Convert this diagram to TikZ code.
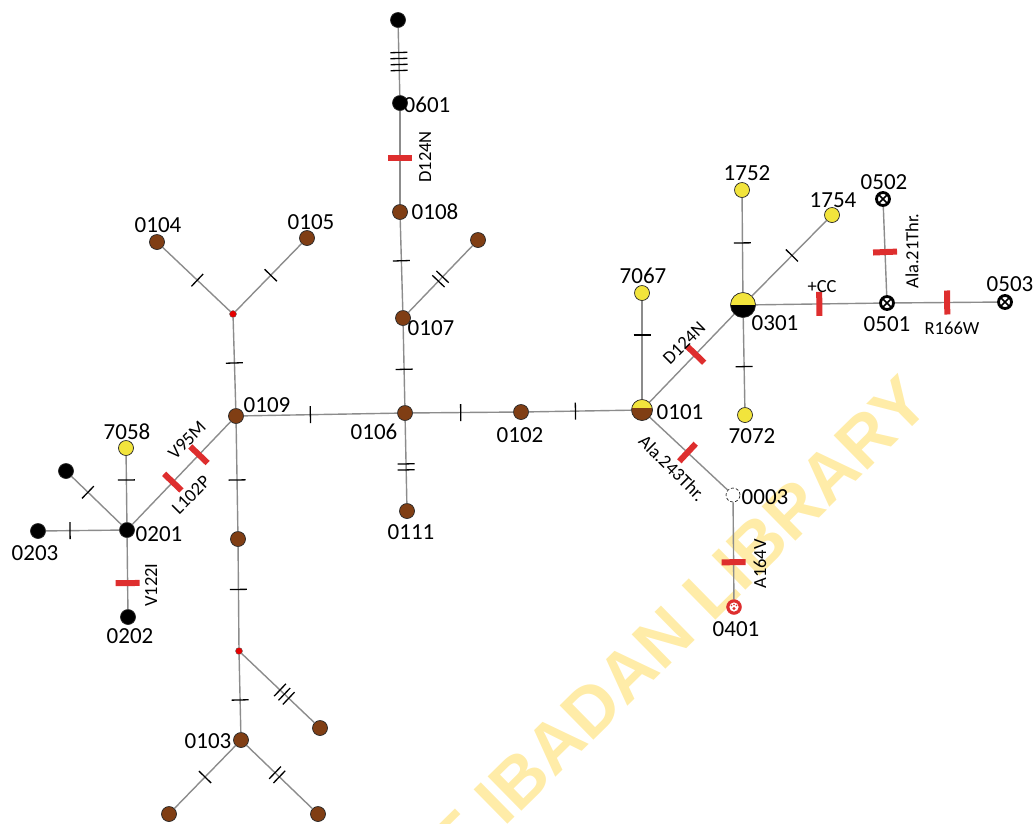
\documentclass[tikz,border=0pt]{standalone}
\usepackage{fontspec}
\setmainfont{Carlito}
\newfontfamily\wmfont{Liberation Sans Bold}
\usetikzlibrary{calc}
\definecolor{hbrown}{RGB}{128,62,20}
\definecolor{hyellow}{RGB}{242,228,60}
\definecolor{mred}{RGB}{222,46,46}
\definecolor{egray}{RGB}{140,140,140}
\definecolor{wmark}{RGB}{255,236,168}
\newcommand\tks[4]{%
  \path ($(#1)!#3!(#2)$) coordinate (tkm);
  \foreach \k in {1,...,#4}{%
    \pgfmathsetmacro\tkd{(\k-(#4+1)/2)*6}
    \path ($(tkm)!\tkd pt!(#2)$) coordinate (tkp);
    \draw[tickln] ($(tkp)!8.5pt!90:(#2)$) -- ($(tkp)!8.5pt!-90:(#2)$);
  }}
\newcommand\mbr[3]{\path (#1.center) -- node[mbar,pos=#3]{} (#2.center);}
\begin{document}
\begin{tikzpicture}[x=1pt,y=-1pt,
  edge/.style={draw=egray,line width=1.4pt},
  tickln/.style={draw=black,line width=1.3pt},
  mbar/.style={sloped,fill=mred,draw=none,minimum width=6pt,minimum height=24pt,inner sep=0pt},
  hap/.style={circle,inner sep=0pt,minimum size=15pt,draw=black!85,line width=0.7pt},
  brn/.style={hap,fill=hbrown},
  blk/.style={hap,fill=black},
  yel/.style={hap,fill=hyellow},
  med/.style={circle,inner sep=0pt,minimum size=7pt,fill=red!90!black,draw=black!60,line width=0.4pt},
  wht/.style={hap,minimum size=14pt,fill=white,densely dashed},
  xnd/.style={circle,inner sep=0pt,minimum size=13pt,draw=black,line width=2.8pt,fill=white,
     path picture={\draw[line width=1.5pt] (path picture bounding box.north west)--(path picture bounding box.south east);
                   \draw[line width=1.5pt] (path picture bounding box.north east)--(path picture bounding box.south west);}},
  lab/.style={font=\fontsize{23}{25}\selectfont,inner sep=0pt},
  mut/.style={font=\fontsize{18.5}{20}\selectfont,inner sep=0pt},
  wm/.style={text=wmark,font=\wmfont\fontsize{70}{80}\selectfont,inner sep=0pt}]
\useasboundingbox (0,0) rectangle (1035,823);
\begin{scope}
\clip (0,0) rectangle (1035,823);
\node[wm,rotate=44.5] (wmtext) at (660,641) {OF IBADAN LIBRARY};
\end{scope}
% nodes
\node[blk] (t601) at (398,20) {};
\node[blk] (n0601) at (400,103) {};
\node[brn] (n0108) at (400,212) {};
\node[brn] (n0107) at (403,318) {};
\node[brn] (b0107) at (478,240) {};
\node[brn] (n0106) at (405,413) {};
\node[brn] (n0111) at (407,511) {};
\node[brn] (n0102) at (521,412) {};
\node[hap,minimum size=21pt,fill=hbrown,
  path picture={\fill[hyellow] (path picture bounding box.north west) rectangle ([yshift=2pt]path picture bounding box.east);}]
  (n0101) at (642,410) {};
\node[yel] (n7067) at (642,293) {};
\node[hap,minimum size=25pt,fill=black,
  path picture={\fill[hyellow] (path picture bounding box.north west) rectangle (path picture bounding box.east);}]
  (n0301) at (743,305) {};
\node[yel] (n1752) at (742,190) {};
\node[yel] (n1754) at (832,215) {};
\node[yel] (n7072) at (745,415) {};
\node[xnd] (n0501) at (887,303) {};
\node[xnd] (n0502) at (883,199) {};
\node[xnd] (n0503) at (1005,302) {};
\node[wht] (n0003) at (733,495) {};
\node[circle,inner sep=0pt,minimum size=15pt,fill=mred,draw=mred,
  path picture={\fill[white] (path picture bounding box.center) circle (4.6pt);
     \fill[mred] ([yshift=-1.5pt]path picture bounding box.center) circle (1.6pt);
     \fill[mred] ([xshift=-2.5pt,yshift=1.5pt]path picture bounding box.center) circle (0.9pt);
     \fill[mred] ([yshift=2.6pt]path picture bounding box.center) circle (0.9pt);
     \fill[mred] ([xshift=2.5pt,yshift=1.5pt]path picture bounding box.center) circle (0.9pt);}]
  (n0401) at (734,607) {};
\node[brn] (n0109) at (236,416) {};
\node[med] (mv1) at (233,314) {};
\node[brn] (n0104) at (157,242) {};
\node[brn] (n0105) at (307,238) {};
\node[blk] (n0201) at (127,530) {};
\node[yel] (n7058) at (126,448) {};
\node[blk] (bk1) at (66,471) {};
\node[blk] (n0203) at (38,531) {};
\node[blk] (n0202) at (128,617) {};
\node[brn] (b1) at (238,539) {};
\node[med] (mv2) at (239,651) {};
\node[brn] (b2) at (320,728) {};
\node[brn] (n0103) at (241,740) {};
\node[brn] (b3) at (169,814) {};
\node[brn] (b4) at (318,814) {};
% edges
\foreach \a/\b in {t601/n0601,n0601/n0108,n0108/n0107,n0107/b0107,n0107/n0106,n0106/n0111,
  n0106/n0102,n0102/n0101,n0109/n0106,n0109/mv1,mv1/n0104,mv1/n0105,n0109/n0201,
  n0201/n7058,n0201/bk1,n0201/n0203,n0201/n0202,n0109/b1,b1/mv2,mv2/n0103,mv2/b2,
  n0103/b3,n0103/b4,n0101/n7067,n0101/n0301,n0101/n0003,n0003/n0401,n0301/n1752,
  n0301/n1754,n0301/n7072,n0301/n0501,n0501/n0502,n0501/n0503}
  \draw[edge] (\a) -- (\b);
% ticks
\tks{t601}{n0601}{0.5}{4}
\tks{n0108}{n0107}{0.46}{1}
\tks{n0107}{b0107}{0.5}{2}
\tks{n0107}{n0106}{0.54}{1}
\tks{n0106}{n0111}{0.55}{2}
\tks{n0106}{n0102}{0.48}{1}
\tks{n0102}{n0101}{0.45}{1}
\tks{n0109}{n0106}{0.44}{1}
\tks{n0109}{mv1}{0.52}{1}
\tks{mv1}{n0104}{0.47}{1}
\tks{mv1}{n0105}{0.51}{1}
\tks{n0201}{n7058}{0.61}{1}
\tks{n0201}{bk1}{0.64}{1}
\tks{n0201}{n0203}{0.64}{1}
\tks{n0109}{b1}{0.52}{1}
\tks{b1}{mv2}{0.45}{1}
\tks{mv2}{n0103}{0.55}{1}
\tks{mv2}{b2}{0.56}{3}
\tks{n0103}{b3}{0.5}{1}
\tks{n0103}{b4}{0.47}{2}
\tks{n0101}{n7067}{0.64}{1}
\tks{n0301}{n1752}{0.54}{1}
\tks{n0301}{n1754}{0.55}{1}
\tks{n0301}{n7072}{0.56}{1}
% mutation bars
\mbr{n0601}{n0108}{0.5}
\mbr{n0109}{n0201}{0.34}
\mbr{n0109}{n0201}{0.58}
\mbr{n0201}{n0202}{0.61}
\mbr{n0101}{n0301}{0.53}
\mbr{n0101}{n0003}{0.5}
\mbr{n0003}{n0401}{0.6}
\mbr{n0301}{n0501}{0.53}
\mbr{n0501}{n0502}{0.49}
\mbr{n0501}{n0503}{0.51}
% mutation labels
\node[mut,rotate=90] (m1) at (425,157) {D124N};
\node[mut,rotate=45] (m2) at (187,440) {V95M};
\node[mut,rotate=45] (m3) at (191,495) {L102P};
\node[mut,rotate=90] (m4) at (151,585) {V122I};
\node[mut,rotate=45] (m5) at (684,343) {D124N};
\node[mut,rotate=-45] (m6) at (672,468) {Ala.243Thr.};
\node[mut,rotate=90] (m7) at (760,564) {A164V};
\node[mut] (m8) at (822,287) {+CC};
\node[mut,rotate=90] (m9) at (912,251) {Ala.21Thr.};
\node[mut] (m10) at (952,328) {R166W};
% haplotype labels
\node[lab] (l0601) at (427,105) {0601};
\node[lab] (l0108) at (435,212) {0108};
\node[lab] (l0107) at (431,328) {0107};
\node[lab] (l0106) at (374,432) {0106};
\node[lab] (l0111) at (411,532) {0111};
\node[lab] (l0102) at (520,435) {0102};
\node[lab] (l0101) at (680,412) {0101};
\node[lab] (l0109) at (267,405) {0109};
\node[lab] (l0104) at (158,225) {0104};
\node[lab] (l0105) at (311,222) {0105};
\node[lab] (l7058) at (127,432) {7058};
\node[lab] (l0201) at (159,534) {0201};
\node[lab] (l0203) at (35,553) {0203};
\node[lab] (l0202) at (130,636) {0202};
\node[lab] (l0103) at (208,741) {0103};
\node[lab] (l7067) at (643,276) {7067};
\node[lab] (l1752) at (747,173) {1752};
\node[lab] (l1754) at (833,200) {1754};
\node[lab] (l0301) at (775,323) {0301};
\node[lab] (l7072) at (752,436) {7072};
\node[lab] (l0502) at (884,182) {0502};
\node[lab] (l0501) at (887,324) {0501};
\node[lab] (l0503) at (1010,284) {0503};
\node[lab] (l0003) at (765,497) {0003};
\node[lab] (l0401) at (736,629) {0401};
\end{tikzpicture}
\end{document}
